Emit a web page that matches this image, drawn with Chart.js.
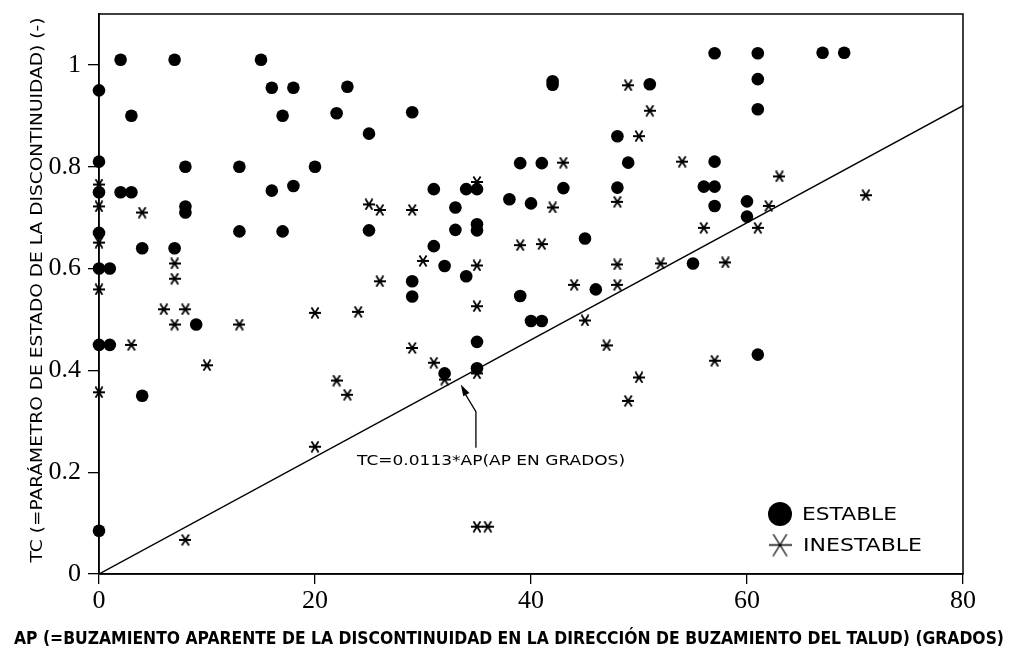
<!DOCTYPE html>
<html><head><meta charset="utf-8">
<script src="https://cdn.jsdelivr.net/npm/chart.js@4.4.0/dist/chart.umd.min.js"></script>
<style>html,body{margin:0;padding:0;background:#fff;}#wrap{width:1011px;height:656px;position:relative;}</style>
</head><body><div id="wrap"><canvas id="c" width="1011" height="656"></canvas></div>
<script>
// ---- data ----
const estableX = [2,7,15, 0,16,18,23, 3,17,22,25, 0,8,13,20, 0,2,3,16,18, 8,8,
  0,0,1,0,1,0, 4,7,9,4, 13,17,25, 42,42,51,29,48, 39,41,49, 31,34,35,43,48,
  38,40,33, 33,35,35,31,45, 32,34,29,29,46,39, 40,41,35,32,35,
  57,61,67,69,61,61, 57,56,57,57,60,60,55,61];
const estableY = [1.01,1.01,1.01, 0.95,0.955,0.955,0.957, 0.90,0.90,0.905,0.865, 0.81,0.80,0.80,0.80, 0.75,0.75,0.75,0.753,0.762, 0.722,0.71,
  0.67,0.60,0.60,0.45,0.45,0.085, 0.64,0.64,0.49,0.35, 0.673,0.673,0.675, 0.968,0.961,0.962,0.907,0.86, 0.807,0.807,0.808, 0.756,0.756,0.756,0.758,0.759,
  0.736,0.728,0.72, 0.676,0.687,0.675,0.644,0.659, 0.605,0.585,0.575,0.545,0.559,0.546, 0.497,0.497,0.456,0.394,0.404,
  1.023,1.023,1.024,1.024,0.972,0.913, 0.81,0.761,0.761,0.723,0.732,0.702,0.61,0.431];
const inestableX = [0,0,0,0,0, 4,7,7,6,8,7,13,3,10, 25,26,26,20,24,22,23, 8,20,
  49,51,50,43,35,48,42,29, 39,41,30,35,48,52,44,48, 35,45,29,47,31,32,35,50,49, 35,36,
  54,63,71,62,56,61,58,57];
const inestableY = [0.765,0.722,0.651,0.559,0.357, 0.71,0.61,0.58,0.52,0.52,0.49,0.49,0.45,0.41, 0.726,0.715,0.575,0.513,0.515,0.38,0.352, 0.067,0.25,
  0.96,0.91,0.86,0.808,0.77,0.731,0.72,0.715, 0.646,0.648,0.615,0.606,0.608,0.61,0.568,0.568, 0.526,0.498,0.444,0.449,0.415,0.382,0.394,0.386,0.34, 0.093,0.093,
  0.81,0.781,0.744,0.723,0.68,0.68,0.612,0.419];
const lineX = [0, 80];
const lineY = [0, 0.92];
const xTicks = [0, 20, 40, 60, 80];
const yTicks = [0, 0.2, 0.4, 0.6, 0.8, 1];
const yTickLabels = ['0', '0.2', '0.4', '0.6', '0.8', '1'];
const seriesNames = ['ESTABLE', 'INESTABLE'];
const yTitle = 'TC (=PARÁMETRO DE ESTADO DE LA DISCONTINUIDAD) (-)';
const xTitle = 'AP (=BUZAMIENTO APARENTE DE LA DISCONTINUIDAD EN LA DIRECCIÓN DE BUZAMIENTO DEL TALUD) (GRADOS)';
const note = 'TC=0.0113*AP(AP EN GRADOS)';

// star marker (horizontal bar + X)
function makeStar(w, h, lw){
  const c = document.createElement('canvas');
  c.width = w; c.height = h;
  const g = c.getContext('2d');
  g.strokeStyle = '#000'; g.lineWidth = lw; g.lineCap = 'butt';
  g.beginPath();
  g.moveTo(0, h/2); g.lineTo(w, h/2);
  g.moveTo(w*0.2, 0.5); g.lineTo(w*0.8, h-0.5);
  g.moveTo(w*0.8, 0.5); g.lineTo(w*0.2, h-0.5);
  g.stroke();
  return c;
}
const starPt = makeStar(12, 12, 1.8);
const starLeg = makeStar(23, 23, 1.3);

function fitText(ctx, text, x, y, size, family, weight, width, align, rot){
  ctx.save();
  ctx.font = weight + ' ' + size + 'px ' + family;
  const w = ctx.measureText(text).width;
  ctx.translate(x, y);
  if (rot) ctx.rotate(rot);
  ctx.scale(width / w, 1);
  ctx.textBaseline = 'middle';
  ctx.textAlign = align;
  ctx.fillStyle = '#000';
  ctx.fillText(text, 0, 0);
  ctx.restore();
}

const deco = {
  id: 'deco',
  beforeDatasetsDraw(chart){
    const {ctx, chartArea: a} = chart;
    ctx.save();
    ctx.strokeStyle = '#000'; ctx.lineWidth = 1.5;
    ctx.strokeRect(a.left, a.top, a.right - a.left, a.bottom - a.top);
    ctx.restore();
  },
  afterDraw(chart){
    const {ctx, scales: {x, y}} = chart;
    ctx.save();
    // arrow
    const tx = x.getPixelForValue(33.5), ty = y.getPixelForValue(0.372);
    const ex = x.getPixelForValue(34.9), ey = y.getPixelForValue(0.319);
    const bx = ex, by = y.getPixelForValue(0.248);
    ctx.strokeStyle = '#000'; ctx.lineWidth = 1.3;
    ctx.beginPath(); ctx.moveTo(bx, by); ctx.lineTo(ex, ey); ctx.lineTo(tx + 3, ty + 7); ctx.stroke();
    const ang = Math.atan2(ty - ey, tx - ex);
    ctx.fillStyle = '#000';
    ctx.beginPath();
    ctx.moveTo(tx, ty);
    ctx.lineTo(tx - 12*Math.cos(ang - 0.3), ty - 12*Math.sin(ang - 0.3));
    ctx.lineTo(tx - 12*Math.cos(ang + 0.3), ty - 12*Math.sin(ang + 0.3));
    ctx.closePath(); ctx.fill();
    // annotation text
    fitText(ctx, note, x.getPixelForValue(36.3), y.getPixelForValue(0.222), 14, '"DejaVu Sans"', 'normal', 268, 'center');
    // titles
    fitText(ctx, yTitle, 38, 290, 15, '"DejaVu Sans"', 'normal', 545, 'center', -Math.PI/2);
    fitText(ctx, xTitle, 509, 640, 17, '"DejaVu Sans Condensed", "DejaVu Sans"', 'bold', 990, 'center');
    // legend
    ctx.beginPath(); ctx.arc(780, 514, 12, 0, Math.PI*2); ctx.fillStyle = '#000'; ctx.fill();
    ctx.drawImage(starLeg, 780 - 11.5, 545 - 11.5);
    fitText(ctx, seriesNames[0], 802, 515, 18, '"DejaVu Sans"', 'normal', 95, 'left');
    fitText(ctx, seriesNames[1], 803, 546, 18, '"DejaVu Sans"', 'normal', 119, 'left');
    ctx.restore();
  }
};

const toPts = (xs, ys) => xs.map((v, i) => ({x: v, y: ys[i]}));

new Chart(document.getElementById('c'), {
  type: 'scatter',
  data: {
    datasets: [
      {label: seriesNames[0], data: toPts(estableX, estableY), pointStyle: 'circle', pointRadius: 6.3,
        backgroundColor: '#000', borderColor: '#000', borderWidth: 0, clip: false},
      {label: seriesNames[1], data: toPts(inestableX, inestableY), pointStyle: starPt, pointRadius: 6, clip: false},
      {type: 'line', label: 'line', data: toPts(lineX, lineY), showLine: true, pointRadius: 0,
        borderColor: '#000', borderWidth: 1.4, fill: false}
    ]
  },
  options: {
    responsive: false, animation: false, events: [],
    layout: {padding: {top: 14, right: 48, left: 0, bottom: 0}},
    plugins: {legend: {display: false}, tooltip: {enabled: false}},
    scales: {
      x: {type: 'linear', min: 0, max: 80,
        afterFit: s => { s.height = 82; s.paddingLeft = 0; s.paddingRight = 0; },
        afterBuildTicks: s => { s.ticks = xTicks.map(v => ({value: v})); },
        grid: {display: true, drawOnChartArea: false, drawTicks: true, tickLength: 10, color: '#000', lineWidth: 1.3},
        border: {display: true, color: '#000', width: 1.5},
        ticks: {color: '#000', padding: 2, maxRotation: 0, font: {family: '"Liberation Serif", serif', size: 26}}
      },
      y: {type: 'linear', min: 0, max: 1.1,
        afterFit: s => { s.width = 99; s.paddingTop = 0; s.paddingBottom = 0; },
        afterBuildTicks: s => { s.ticks = yTicks.map(v => ({value: v})); },
        grid: {display: true, drawOnChartArea: false, drawTicks: true, tickLength: 11, color: '#000', lineWidth: 1.3},
        border: {display: true, color: '#000', width: 1.5},
        ticks: {color: '#000', padding: 7, font: {family: '"Liberation Serif", serif', size: 26},
          callback: (v) => { const i = yTicks.indexOf(v); return i >= 0 ? yTickLabels[i] : ''; }}
      }
    }
  },
  plugins: [deco]
});
</script></body></html>
